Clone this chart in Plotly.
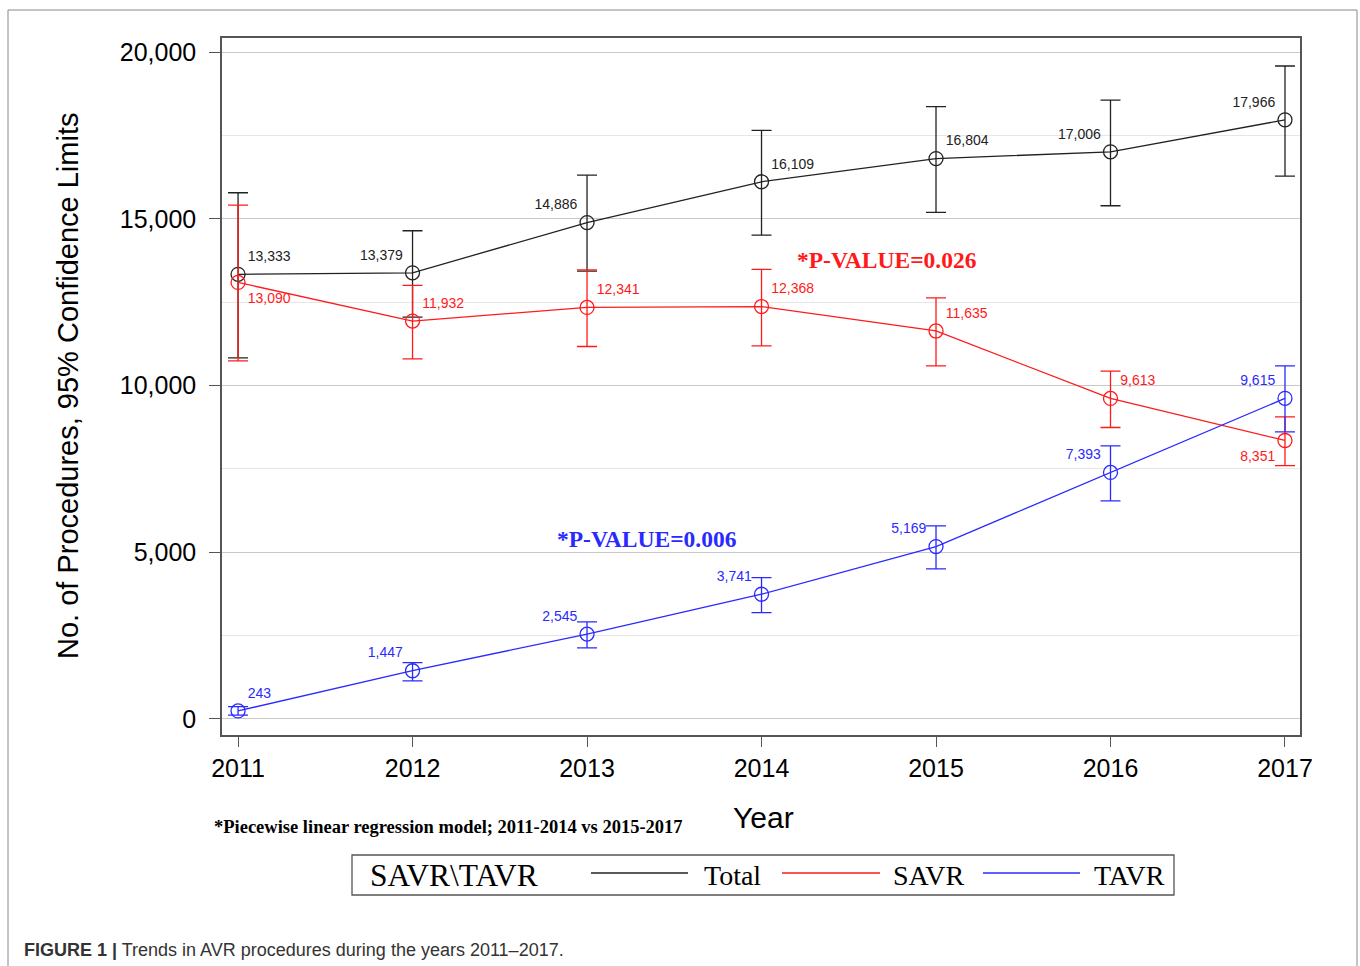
import plotly.graph_objects as go

# ---------------- data ----------------
years = [2011, 2012, 2013, 2014, 2015, 2016, 2017]

total = [13333, 13379, 14886, 16109, 16804, 17006, 17966]
total_upper = [15780, 14640, 16310, 17650, 18360, 18560, 19580]
total_lower = [10830, 12050, 13430, 14510, 15190, 15390, 16280]

savr = [13090, 11932, 12341, 12368, 11635, 9613, 8351]
savr_upper = [15410, 13000, 13470, 13480, 12630, 10430, 9060]
savr_lower = [10740, 10800, 11170, 11190, 10590, 8740, 7600]

tavr = [243, 1447, 2545, 3741, 5169, 7393, 9615]
tavr_upper = [370, 1690, 2910, 4240, 5790, 8190, 10590]
tavr_lower = [115, 1140, 2130, 3190, 4500, 6540, 8610]

total_pos = ["top right", "top left", "top left", "top right", "top right", "top left", "top left"]
savr_pos = ["bottom right", "top right", "top right", "top right", "top right", "top right", "bottom left"]
tavr_pos = ["top right", "top left", "top left", "top left", "top left", "top left", "top left"]

series_names = ["Total", "SAVR", "TAVR"]
y_tick_vals = [0, 5000, 10000, 15000, 20000]
y_tick_text = ["0", "5,000", "10,000", "15,000", "20,000"]

# ---------------- style ----------------
BLACK = "#222222"
RED = "#ff1a1a"
BLUE = "#2a2aff"
W, H = 1360, 966
L, R, T, B = 222, 1300, 38, 735
SERIF = "Liberation Serif, Times New Roman, serif"
SANS = "Liberation Sans, Arial, sans-serif"


def px(x):
    return (x - L) / (R - L)


def py(y):
    return (B - y) / (B - T)


fig = go.Figure()


def add_series(name, vals, up, lo, pos, color):
    fig.add_trace(go.Scatter(
        x=years, y=vals, name=name, mode="lines+markers+text",
        line=dict(color=color, width=1.3),
        marker=dict(symbol="circle-open", size=14, color=color, line=dict(width=1.3, color=color)),
        error_y=dict(type="data", symmetric=False,
                     array=[u - v for u, v in zip(up, vals)],
                     arrayminus=[v - l for v, l in zip(vals, lo)],
                     color=color, thickness=1.3, width=10),
        text=[f"{v:,}" for v in vals], textposition=pos,
        textfont=dict(family=SANS, size=14, color=color),
        cliponaxis=False, showlegend=False,
    ))


add_series(series_names[0], total, total_upper, total_lower, total_pos, BLACK)
add_series(series_names[1], savr, savr_upper, savr_lower, savr_pos, RED)
add_series(series_names[2], tavr, tavr_upper, tavr_lower, tavr_pos, BLUE)


def note(text, x, y, size, family, color="black", xanchor="center", angle=0):
    return dict(text=text, x=px(x), y=py(y), xref="paper", yref="paper", xanchor=xanchor,
                yanchor="middle", showarrow=False, textangle=angle,
                font=dict(family=family, size=size, color=color))


annotations = [
    note("<b>*P-VALUE=0.026</b>", 887, 260, 23.5, SERIF, RED),
    note("<b>*P-VALUE=0.006</b>", 647, 539, 23.5, SERIF, BLUE),
    note("<b>*Piecewise linear regression model; 2011-2014 vs 2015-2017</b>", 212, 827, 18.5, SERIF,
         xanchor="left"),
    note("Year", 763, 817, 30, SANS),
    note("No. of Procedures, 95% Confidence Limits", 68, 386, 29, SANS, angle=-90),
    note("SAVR\\TAVR", 368, 875, 31.5, SERIF, xanchor="left"),
    note("<b>FIGURE 1 |</b> Trends in AVR procedures during the years 2011–2017.", 22, 950, 18,
         "Liberation Sans Narrow, Arial Narrow, Arial", "#333333", xanchor="left"),
]

shapes = [
    # outer figure frame
    dict(type="rect", xref="paper", yref="paper", x0=px(8), x1=px(1357), y0=py(975), y1=py(10),
         line=dict(color="#888888", width=1), layer="below"),
    # legend box
    dict(type="rect", xref="paper", yref="paper", x0=px(352), x1=px(1174), y0=py(895), y1=py(855),
         line=dict(color="#555555", width=1.3)),
]

legend_items = [(591, 688, 702, BLACK), (782, 880, 891, RED), (983, 1080, 1092, BLUE)]
for name, (lx0, lx1, tx, col) in zip(series_names, legend_items):
    shapes.append(dict(type="line", xref="paper", yref="paper", x0=px(lx0), x1=px(lx1),
                       y0=py(873), y1=py(873), line=dict(color=col, width=1.3)))
    annotations.append(note(name, tx, 875, 28, SERIF, xanchor="left"))

fig.update_layout(
    width=W, height=H,
    margin=dict(l=L, r=W - R, t=T, b=H - B),
    paper_bgcolor="white", plot_bgcolor="white",
    annotations=annotations, shapes=shapes,
    showlegend=False,
)

fig.update_xaxes(
    range=[2010.908, 2017.086], tickvals=years, ticktext=[str(y) for y in years],
    showgrid=False, zeroline=False, showline=True, mirror=True, linecolor="#555555", linewidth=1.5,
    ticks="outside", ticklen=10, tickcolor="#555555", ticklabelstandoff=0,
    tickfont=dict(family=SANS, size=25, color="black"),
)
fig.update_yaxes(
    range=[-480, 20420], tickvals=y_tick_vals, ticktext=y_tick_text,
    showgrid=True, gridcolor="#c8c8c8", gridwidth=1.3, zeroline=False,
    minor=dict(dtick=2500, tick0=0, showgrid=True, gridcolor="#e6e6e6", gridwidth=1, ticks=""),
    showline=True, mirror=True, linecolor="#555555", linewidth=1.5,
    ticks="outside", ticklen=11, tickcolor="#555555", ticklabelstandoff=8,
    tickfont=dict(family=SANS, size=25, color="black"),
)

fig.write_html("out.html", config={"displayModeBar": False},
               post_script="document.body.style.margin='0';")
